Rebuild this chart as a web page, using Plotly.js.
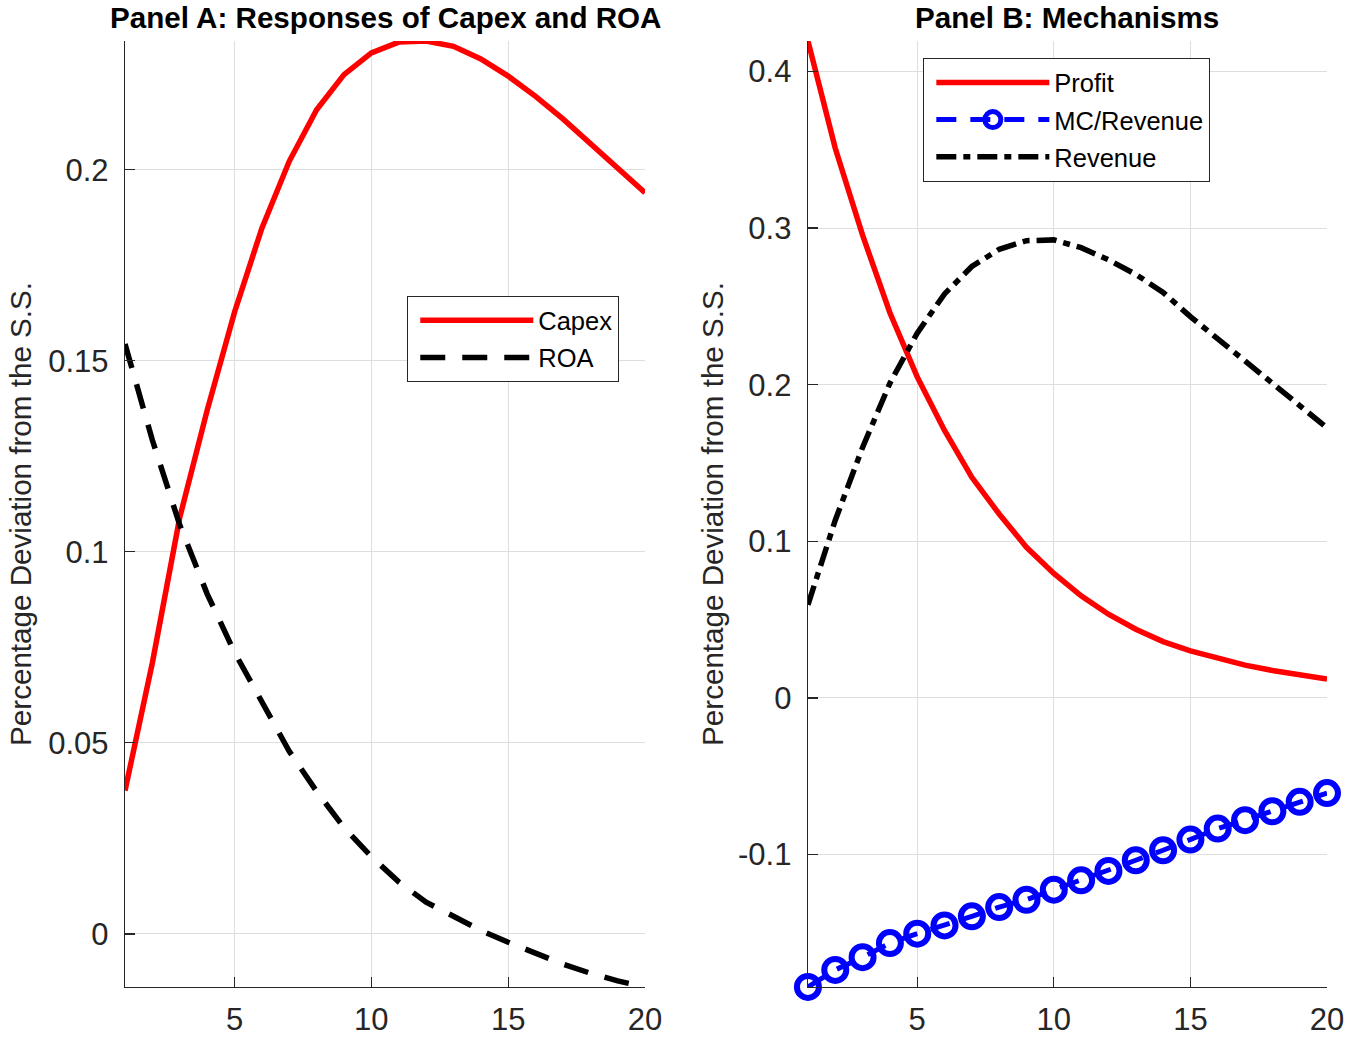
<!DOCTYPE html>
<html>
<head>
<meta charset="utf-8">
<script src="https://cdn.plot.ly/plotly-3.0.1.min.js"></script>
<style>
html,body{margin:0;padding:0;background:#ffffff;}
#chart{width:1362px;height:1040px;}
</style>
</head>
<body>
<div id="chart"></div>
<script>
// ---- data ----
const horizon = [1,2,3,4,5,6,7,8,9,10,11,12,13,14,15,16,17,18,19,20];

const capex = [0.0375, 0.0710, 0.1090, 0.1370, 0.1627, 0.1847, 0.2022, 0.2157, 0.2249, 0.2306,
               0.2334, 0.2337, 0.2323, 0.2290, 0.2245, 0.2192, 0.2133, 0.2070, 0.2004, 0.1940];
const roa = [0.1544, 0.1292, 0.1070, 0.0890, 0.0737, 0.0605, 0.0478, 0.0373, 0.0278, 0.0202,
             0.0136, 0.0083, 0.0044, 0.0009, -0.0022, -0.0052, -0.0079, -0.0103, -0.0123, -0.0139];

const profit = [0.4195, 0.3510, 0.2955, 0.2460, 0.2050, 0.1708, 0.1409, 0.1175, 0.0962, 0.0795,
                0.0652, 0.0535, 0.0439, 0.0360, 0.0301, 0.0252, 0.0210, 0.0176, 0.0146, 0.0121];
const mcRevenue = [-0.1845, -0.1736, -0.1655, -0.1565, -0.1505, -0.1452, -0.1394, -0.1335, -0.1288, -0.1224,
                   -0.1164, -0.1104, -0.1036, -0.0972, -0.0904, -0.0834, -0.0780, -0.0723, -0.0663, -0.0607];
const revenue = [0.0595, 0.1135, 0.1600, 0.2010, 0.2330, 0.2580, 0.2755, 0.2865, 0.2920, 0.2925,
                 0.2875, 0.2798, 0.2705, 0.2590, 0.2435, 0.2290, 0.2150, 0.2010, 0.1867, 0.1725];

const xTickVals = [5, 10, 15, 20];
const xTickText = ['5', '10', '15', '20'];
const yTickValsA = [0, 0.05, 0.1, 0.15, 0.2];
const yTickTextA = ['0', '0.05', '0.1', '0.15', '0.2'];
const yTickValsB = [-0.1, 0, 0.1, 0.2, 0.3, 0.4];
const yTickTextB = ['-0.1', '0', '0.1', '0.2', '0.3', '0.4'];

const titleA = 'Panel A: Responses of Capex and ROA';
const titleB = 'Panel B: Mechanisms';
const yTitle = 'Percentage Deviation from the S.S.';

// ---- styling ----
const FONT = 'Liberation Sans, Arial, Helvetica, sans-serif';
const INK = '#262626';

const traces = [
  {x: horizon, y: capex, name: 'Capex', type: 'scatter', mode: 'lines',
   line: {color: '#ff0000', width: 5.5}, xaxis: 'x', yaxis: 'y', legend: 'legend', legendgroup: 'a1'},
  {x: horizon, y: roa, name: 'ROA', type: 'scatter', mode: 'lines',
   line: {color: '#000000', width: 5.5, dash: '25px,17px'}, xaxis: 'x', yaxis: 'y', legend: 'legend', legendgroup: 'a2'},
  {x: horizon, y: profit, name: 'Profit', type: 'scatter', mode: 'lines',
   line: {color: '#ff0000', width: 5.5}, xaxis: 'x2', yaxis: 'y2', legend: 'legend2', legendgroup: 'b1'},
  {x: horizon, y: mcRevenue, name: 'MC/Revenue', type: 'scatter', mode: 'lines+markers',
   line: {color: '#0000ff', width: 5, dash: '20px,14px'},
   marker: {symbol: 'circle-open', size: 22, color: '#0000ff', line: {width: 6, color: '#0000ff'}},
   cliponaxis: false, xaxis: 'x2', yaxis: 'y2', legend: 'legend2', legendgroup: 'b2'},
  {x: horizon, y: revenue, name: 'Revenue', type: 'scatter', mode: 'lines',
   line: {color: '#000000', width: 5.5, dash: '20px,7px,7px,7px'}, xaxis: 'x2', yaxis: 'y2', legend: 'legend2', legendgroup: 'b3'}
];

function axisBase() {
  return {
    showline: true, linecolor: INK, linewidth: 1.3, mirror: false,
    showgrid: true, gridcolor: '#dedede', gridwidth: 1,
    zeroline: false,
    ticks: 'inside', ticklen: 10, tickwidth: 1.3, tickcolor: INK,
    tickfont: {family: FONT, size: 31, color: INK},
    automargin: false, fixedrange: true
  };
}

const minA = Math.min(...capex, ...roa), maxA = Math.max(...capex, ...roa);
const minB = Math.min(...profit, ...mcRevenue, ...revenue), maxB = Math.max(...profit, ...mcRevenue, ...revenue);

const yDomain = [0.051, 0.9606];

const legendBase = {
  xanchor: 'left', yanchor: 'top',
  bgcolor: '#ffffff', bordercolor: INK, borderwidth: 1.3,
  font: {family: FONT, size: 25.5, color: '#000000'},
  itemwidth: 113, indentation: 7, tracegroupgap: 1
};

const layout = {
  width: 1362, height: 1040,
  margin: {l: 0, r: 0, t: 0, b: 0},
  paper_bgcolor: '#ffffff', plot_bgcolor: '#ffffff',
  font: {family: FONT, color: INK},
  showlegend: true,
  xaxis: Object.assign(axisBase(), {domain: [0.0918, 0.4736], range: [1, 20], anchor: 'y',
    tickmode: 'array', tickvals: xTickVals, ticktext: xTickText, ticklabelstandoff: 5}),
  yaxis: Object.assign(axisBase(), {domain: yDomain, range: [minA, maxA], anchor: 'x',
    tickmode: 'array', tickvals: yTickValsA, ticktext: yTickTextA, ticklabelstandoff: 9,
    title: {text: yTitle, font: {family: FONT, size: 29.6, color: INK}, standoff: 7}}),
  xaxis2: Object.assign(axisBase(), {domain: [0.5932, 0.9743], range: [1, 20], anchor: 'y2',
    tickmode: 'array', tickvals: xTickVals, ticktext: xTickText, ticklabelstandoff: 5}),
  yaxis2: Object.assign(axisBase(), {domain: yDomain, range: [minB, maxB], anchor: 'x2',
    tickmode: 'array', tickvals: yTickValsB, ticktext: yTickTextB, ticklabelstandoff: 9,
    title: {text: yTitle, font: {family: FONT, size: 29.6, color: INK}, standoff: 5}}),
  annotations: [
    {text: '<b>' + titleA + '</b>', xref: 'paper', yref: 'paper', x: 0.2827, y: 0.983,
     xanchor: 'center', yanchor: 'middle', showarrow: false,
     font: {family: FONT, size: 29.6, color: '#000000'}},
    {text: '<b>' + titleB + '</b>', xref: 'paper', yref: 'paper', x: 0.7834, y: 0.983,
     xanchor: 'center', yanchor: 'middle', showarrow: false,
     font: {family: FONT, size: 29.6, color: '#000000'}}
  ],
  legend: Object.assign({}, legendBase, {x: 0.2988, y: 0.7154}),
  legend2: Object.assign({}, legendBase, {x: 0.6777, y: 0.9442})
};

Plotly.newPlot('chart', traces, layout, {displayModeBar: false, staticPlot: true});
</script>
</body>
</html>
